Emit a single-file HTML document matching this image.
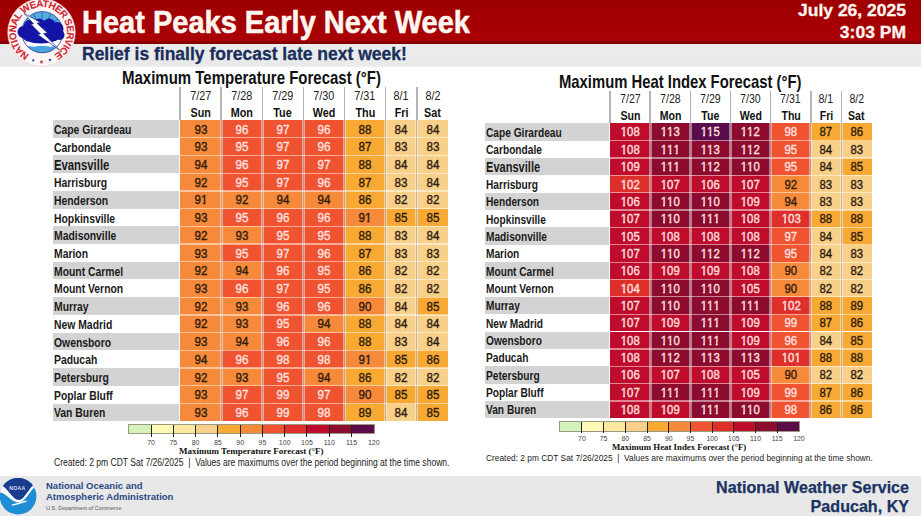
<!DOCTYPE html>
<html><head><meta charset="utf-8"><style>
html,body{margin:0;padding:0;}
body{width:921px;height:516px;position:relative;overflow:hidden;background:#fff;font-family:"Liberation Sans", sans-serif;}
div{box-sizing:border-box;}
.tt{position:absolute;white-space:nowrap;font-weight:bold;color:#111;line-height:1;transform-origin:0 0;}
.lb{position:absolute;white-space:nowrap;font-weight:bold;color:#1a1a1a;transform:scaleX(0.775);transform-origin:0 50%;}
.cl{position:absolute;text-align:center;}
.o{font-style:normal;display:inline-block;line-height:1;clip-path:polygon(0 0,100% 0,100% 0.64em,0.375em 0.64em,0.375em 100%,0.21em 100%,0.21em 0.64em,0 0.64em);}
.cl span{display:inline-block;transform:scaleX(0.93);-webkit-text-stroke:0.35px currentColor;}
.hd{position:absolute;text-align:center;line-height:14px;color:#222;}
.hd span{display:inline-block;transform:scaleX(0.9);}
.hd.b{font-weight:bold;color:#111;}
.tk{position:absolute;width:30px;text-align:center;color:#444;line-height:1;}
.lt{position:absolute;white-space:nowrap;font-family:"Liberation Serif",serif;font-weight:bold;color:#111;line-height:1;}
.cr{position:absolute;white-space:nowrap;color:#222;line-height:1;transform-origin:0 0;}
</style></head><body>
<div style="position:absolute;left:0;top:0;width:921px;height:44px;background:linear-gradient(#9e0000,#a90005 90%,#7c0000)"></div>
<div style="position:absolute;left:0;top:44px;width:921px;height:22.5px;background:linear-gradient(#ececec,#e9e9e9 85%,#efefef)"></div>
<div style="position:absolute;left:0;top:475.7px;width:921px;height:41px;background:#e8e8e8"></div>
<div style="position:absolute;left:82px;top:7.7px;font-size:29px;font-weight:bold;color:#fff6f0;-webkit-text-stroke:0.5px #fff6f0;line-height:1;white-space:nowrap;transform:scaleY(1.06);transform-origin:0 0">Heat Peaks Early Next Week</div>
<div style="position:absolute;left:82px;top:46px;font-size:17.5px;font-weight:bold;color:#1a2e5c;-webkit-text-stroke:0.3px #1a2e5c;line-height:1;white-space:nowrap">Relief is finally forecast late next week!</div>
<div style="position:absolute;right:15px;top:3px;font-size:17.5px;font-weight:bold;color:#fff6f0;-webkit-text-stroke:0.3px #fff6f0;line-height:1;white-space:nowrap;text-align:right;transform:scaleY(0.9);transform-origin:100% 0">July 26, 2025</div>
<div style="position:absolute;right:15px;top:25.2px;font-size:17.5px;font-weight:bold;color:#fff6f0;-webkit-text-stroke:0.3px #fff6f0;line-height:1;white-space:nowrap;text-align:right;transform:scaleY(0.9);transform-origin:100% 0">3:03 PM</div>
<svg style="position:absolute;left:0;top:0" width="84" height="70" viewBox="0 0 84 70">
<defs>
<path id="ring" d="M 29.29 54.89 A 25.5 25.5 0 1 1 54.29 54.56"/>
<clipPath id="inner"><circle cx="42.3" cy="32.2" r="20.6"/></clipPath>
</defs>
<circle cx="41.5" cy="32.5" r="33.8" fill="#fdf6f6" stroke="#e6cccc" stroke-width="0.6"/>
<g clip-path="url(#inner)">
<rect x="20" y="10" width="46" height="46" fill="#55aadf"/>
<g stroke="#2a6cb0" stroke-width="0.9">
<line x1="42.3" y1="32" x2="42" y2="10"/><line x1="42.3" y1="32" x2="52" y2="11"/><line x1="42.3" y1="32" x2="60" y2="17"/><line x1="42.3" y1="32" x2="32" y2="11"/><line x1="42.3" y1="32" x2="24" y2="18"/>
</g>
<path d="M18 39 Q26 35 34 38 Q42 35 50 38 Q58 35 66 39 L66 48 L18 48 Z" fill="#ffffff"/>
<path d="M18 46.8 Q26 45 34 46.8 Q42 44.8 50 46.8 Q58 45 66 46.8 L66 56 L18 56 Z" fill="#4aa2dc"/>
</g>
<circle cx="42.3" cy="32.2" r="20.6" fill="none" stroke="#2a3f95" stroke-width="0.8"/>
<g fill="#1414a6">
<circle cx="23.5" cy="32" r="6"/>
<circle cx="30" cy="26.5" r="6.5"/>
<circle cx="39" cy="24.5" r="6"/>
<circle cx="49" cy="24.5" r="6"/>
<circle cx="57" cy="28.5" r="6.5"/>
<circle cx="59.5" cy="35" r="5"/>
<ellipse cx="41" cy="36" rx="19" ry="7.5"/>
</g>
<path d="M24 13.3 L40.5 22.5 L37 23.2 L47.5 33 L43.5 33.6 L59.5 50 L37.5 34.5 L40.5 34 L31 24.3 L33.5 23.8 Z" fill="#ffffff" stroke="#1a2a8a" stroke-width="0.7" stroke-linejoin="miter"/>
<text font-family="Liberation Sans" font-weight="bold" font-size="9.9" fill="#d0262e" stroke="#d0262e" stroke-width="0.1" textLength="134" lengthAdjust="spacing"><textPath href="#ring" startOffset="0" textLength="134" lengthAdjust="spacing">NATIONAL WEATHER SERVICE</textPath></text>
<polygon points="33.20,58.40 33.67,59.65 35.01,59.71 33.96,60.55 34.32,61.84 33.20,61.10 32.08,61.84 32.44,60.55 31.39,59.71 32.73,59.65" fill="#2a3a90"/><polygon points="41.50,59.80 42.03,61.27 43.59,61.32 42.36,62.28 42.79,63.78 41.50,62.90 40.21,63.78 40.64,62.28 39.41,61.32 40.97,61.27" fill="#d0262e"/><polygon points="50.00,58.10 50.47,59.35 51.81,59.41 50.76,60.25 51.12,61.54 50.00,60.80 48.88,61.54 49.24,60.25 48.19,59.41 49.53,59.35" fill="#2a3a90"/>
</svg>

<div class="tt" style="left:121.5px;top:68.5px;font-size:18.00px;transform:scaleX(0.833)">Maximum Temperature Forecast (°F)</div>
<div style="position:absolute;left:53px;top:120.00px;width:126.20px;height:17.72px;background:#d3d3d3"></div>
<div class="lb" style="left:54.00px;top:120.90px;height:17.72px;line-height:17.72px;font-size:13.40px">Cape Girardeau</div>
<div class="cl" style="left:180.20px;top:120.00px;width:41.08px;height:17.72px;background:#f68a3a;color:#2e1a0c;line-height:17.72px;font-size:12.50px"><span style="position:relative;top:1.5px">93</span></div>
<div class="cl" style="left:221.28px;top:120.00px;width:41.08px;height:17.72px;background:#f05330;color:#ffe2e0;line-height:17.72px;font-size:12.50px"><span style="position:relative;top:1.5px">96</span></div>
<div class="cl" style="left:262.36px;top:120.00px;width:41.08px;height:17.72px;background:#f05330;color:#ffe2e0;line-height:17.72px;font-size:12.50px"><span style="position:relative;top:1.5px">97</span></div>
<div class="cl" style="left:303.44px;top:120.00px;width:41.08px;height:17.72px;background:#f05330;color:#ffe2e0;line-height:17.72px;font-size:12.50px"><span style="position:relative;top:1.5px">96</span></div>
<div class="cl" style="left:344.52px;top:120.00px;width:41.08px;height:17.72px;background:#f7a933;color:#2e1a0c;line-height:17.72px;font-size:12.50px"><span style="position:relative;top:1.5px">88</span></div>
<div class="cl" style="left:385.60px;top:120.00px;width:31.30px;height:17.72px;background:#f8d08a;color:#2e1a0c;line-height:17.72px;font-size:12.50px"><span style="position:relative;top:1.5px">84</span></div>
<div class="cl" style="left:416.90px;top:120.00px;width:31.30px;height:17.72px;background:#f8d08a;color:#2e1a0c;line-height:17.72px;font-size:12.50px"><span style="position:relative;top:1.5px">84</span></div>
<div class="lb" style="left:54.00px;top:138.62px;height:17.72px;line-height:17.72px;font-size:13.40px">Carbondale</div>
<div class="cl" style="left:180.20px;top:137.72px;width:41.08px;height:17.72px;background:#f68a3a;color:#2e1a0c;line-height:17.72px;font-size:12.50px"><span style="position:relative;top:1.5px">93</span></div>
<div class="cl" style="left:221.28px;top:137.72px;width:41.08px;height:17.72px;background:#f05330;color:#ffe2e0;line-height:17.72px;font-size:12.50px"><span style="position:relative;top:1.5px">95</span></div>
<div class="cl" style="left:262.36px;top:137.72px;width:41.08px;height:17.72px;background:#f05330;color:#ffe2e0;line-height:17.72px;font-size:12.50px"><span style="position:relative;top:1.5px">97</span></div>
<div class="cl" style="left:303.44px;top:137.72px;width:41.08px;height:17.72px;background:#f05330;color:#ffe2e0;line-height:17.72px;font-size:12.50px"><span style="position:relative;top:1.5px">96</span></div>
<div class="cl" style="left:344.52px;top:137.72px;width:41.08px;height:17.72px;background:#f7a933;color:#2e1a0c;line-height:17.72px;font-size:12.50px"><span style="position:relative;top:1.5px">87</span></div>
<div class="cl" style="left:385.60px;top:137.72px;width:31.30px;height:17.72px;background:#f8d08a;color:#2e1a0c;line-height:17.72px;font-size:12.50px"><span style="position:relative;top:1.5px">83</span></div>
<div class="cl" style="left:416.90px;top:137.72px;width:31.30px;height:17.72px;background:#f8d08a;color:#2e1a0c;line-height:17.72px;font-size:12.50px"><span style="position:relative;top:1.5px">83</span></div>
<div style="position:absolute;left:53px;top:155.44px;width:126.20px;height:17.72px;background:#d3d3d3"></div>
<div class="lb" style="left:54.00px;top:157.14px;height:17.72px;line-height:17.72px;font-size:14.60px">Evansville</div>
<div class="cl" style="left:180.20px;top:155.44px;width:41.08px;height:17.72px;background:#f68a3a;color:#2e1a0c;line-height:17.72px;font-size:12.50px"><span style="position:relative;top:1.5px">94</span></div>
<div class="cl" style="left:221.28px;top:155.44px;width:41.08px;height:17.72px;background:#f05330;color:#ffe2e0;line-height:17.72px;font-size:12.50px"><span style="position:relative;top:1.5px">96</span></div>
<div class="cl" style="left:262.36px;top:155.44px;width:41.08px;height:17.72px;background:#f05330;color:#ffe2e0;line-height:17.72px;font-size:12.50px"><span style="position:relative;top:1.5px">97</span></div>
<div class="cl" style="left:303.44px;top:155.44px;width:41.08px;height:17.72px;background:#f05330;color:#ffe2e0;line-height:17.72px;font-size:12.50px"><span style="position:relative;top:1.5px">97</span></div>
<div class="cl" style="left:344.52px;top:155.44px;width:41.08px;height:17.72px;background:#f7a933;color:#2e1a0c;line-height:17.72px;font-size:12.50px"><span style="position:relative;top:1.5px">88</span></div>
<div class="cl" style="left:385.60px;top:155.44px;width:31.30px;height:17.72px;background:#f8d08a;color:#2e1a0c;line-height:17.72px;font-size:12.50px"><span style="position:relative;top:1.5px">84</span></div>
<div class="cl" style="left:416.90px;top:155.44px;width:31.30px;height:17.72px;background:#f8d08a;color:#2e1a0c;line-height:17.72px;font-size:12.50px"><span style="position:relative;top:1.5px">84</span></div>
<div class="lb" style="left:54.00px;top:174.06px;height:17.72px;line-height:17.72px;font-size:13.40px">Harrisburg</div>
<div class="cl" style="left:180.20px;top:173.16px;width:41.08px;height:17.72px;background:#f68a3a;color:#2e1a0c;line-height:17.72px;font-size:12.50px"><span style="position:relative;top:1.5px">92</span></div>
<div class="cl" style="left:221.28px;top:173.16px;width:41.08px;height:17.72px;background:#f05330;color:#ffe2e0;line-height:17.72px;font-size:12.50px"><span style="position:relative;top:1.5px">95</span></div>
<div class="cl" style="left:262.36px;top:173.16px;width:41.08px;height:17.72px;background:#f05330;color:#ffe2e0;line-height:17.72px;font-size:12.50px"><span style="position:relative;top:1.5px">97</span></div>
<div class="cl" style="left:303.44px;top:173.16px;width:41.08px;height:17.72px;background:#f05330;color:#ffe2e0;line-height:17.72px;font-size:12.50px"><span style="position:relative;top:1.5px">96</span></div>
<div class="cl" style="left:344.52px;top:173.16px;width:41.08px;height:17.72px;background:#f7a933;color:#2e1a0c;line-height:17.72px;font-size:12.50px"><span style="position:relative;top:1.5px">87</span></div>
<div class="cl" style="left:385.60px;top:173.16px;width:31.30px;height:17.72px;background:#f8d08a;color:#2e1a0c;line-height:17.72px;font-size:12.50px"><span style="position:relative;top:1.5px">83</span></div>
<div class="cl" style="left:416.90px;top:173.16px;width:31.30px;height:17.72px;background:#f8d08a;color:#2e1a0c;line-height:17.72px;font-size:12.50px"><span style="position:relative;top:1.5px">84</span></div>
<div style="position:absolute;left:53px;top:190.88px;width:126.20px;height:17.72px;background:#d3d3d3"></div>
<div class="lb" style="left:54.00px;top:191.78px;height:17.72px;line-height:17.72px;font-size:13.40px">Henderson</div>
<div class="cl" style="left:180.20px;top:190.88px;width:41.08px;height:17.72px;background:#f68a3a;color:#2e1a0c;line-height:17.72px;font-size:12.50px"><span style="position:relative;top:1.5px">9<i class="o">1</i></span></div>
<div class="cl" style="left:221.28px;top:190.88px;width:41.08px;height:17.72px;background:#f68a3a;color:#2e1a0c;line-height:17.72px;font-size:12.50px"><span style="position:relative;top:1.5px">92</span></div>
<div class="cl" style="left:262.36px;top:190.88px;width:41.08px;height:17.72px;background:#f68a3a;color:#2e1a0c;line-height:17.72px;font-size:12.50px"><span style="position:relative;top:1.5px">94</span></div>
<div class="cl" style="left:303.44px;top:190.88px;width:41.08px;height:17.72px;background:#f68a3a;color:#2e1a0c;line-height:17.72px;font-size:12.50px"><span style="position:relative;top:1.5px">94</span></div>
<div class="cl" style="left:344.52px;top:190.88px;width:41.08px;height:17.72px;background:#f7a933;color:#2e1a0c;line-height:17.72px;font-size:12.50px"><span style="position:relative;top:1.5px">86</span></div>
<div class="cl" style="left:385.60px;top:190.88px;width:31.30px;height:17.72px;background:#f8d08a;color:#2e1a0c;line-height:17.72px;font-size:12.50px"><span style="position:relative;top:1.5px">82</span></div>
<div class="cl" style="left:416.90px;top:190.88px;width:31.30px;height:17.72px;background:#f8d08a;color:#2e1a0c;line-height:17.72px;font-size:12.50px"><span style="position:relative;top:1.5px">82</span></div>
<div class="lb" style="left:54.00px;top:209.50px;height:17.72px;line-height:17.72px;font-size:13.40px">Hopkinsville</div>
<div class="cl" style="left:180.20px;top:208.60px;width:41.08px;height:17.72px;background:#f68a3a;color:#2e1a0c;line-height:17.72px;font-size:12.50px"><span style="position:relative;top:1.5px">93</span></div>
<div class="cl" style="left:221.28px;top:208.60px;width:41.08px;height:17.72px;background:#f05330;color:#ffe2e0;line-height:17.72px;font-size:12.50px"><span style="position:relative;top:1.5px">95</span></div>
<div class="cl" style="left:262.36px;top:208.60px;width:41.08px;height:17.72px;background:#f05330;color:#ffe2e0;line-height:17.72px;font-size:12.50px"><span style="position:relative;top:1.5px">96</span></div>
<div class="cl" style="left:303.44px;top:208.60px;width:41.08px;height:17.72px;background:#f05330;color:#ffe2e0;line-height:17.72px;font-size:12.50px"><span style="position:relative;top:1.5px">96</span></div>
<div class="cl" style="left:344.52px;top:208.60px;width:41.08px;height:17.72px;background:#f68a3a;color:#2e1a0c;line-height:17.72px;font-size:12.50px"><span style="position:relative;top:1.5px">9<i class="o">1</i></span></div>
<div class="cl" style="left:385.60px;top:208.60px;width:31.30px;height:17.72px;background:#f7a933;color:#2e1a0c;line-height:17.72px;font-size:12.50px"><span style="position:relative;top:1.5px">85</span></div>
<div class="cl" style="left:416.90px;top:208.60px;width:31.30px;height:17.72px;background:#f7a933;color:#2e1a0c;line-height:17.72px;font-size:12.50px"><span style="position:relative;top:1.5px">85</span></div>
<div style="position:absolute;left:53px;top:226.32px;width:126.20px;height:17.72px;background:#d3d3d3"></div>
<div class="lb" style="left:54.00px;top:227.22px;height:17.72px;line-height:17.72px;font-size:13.40px">Madisonville</div>
<div class="cl" style="left:180.20px;top:226.32px;width:41.08px;height:17.72px;background:#f68a3a;color:#2e1a0c;line-height:17.72px;font-size:12.50px"><span style="position:relative;top:1.5px">92</span></div>
<div class="cl" style="left:221.28px;top:226.32px;width:41.08px;height:17.72px;background:#f68a3a;color:#2e1a0c;line-height:17.72px;font-size:12.50px"><span style="position:relative;top:1.5px">93</span></div>
<div class="cl" style="left:262.36px;top:226.32px;width:41.08px;height:17.72px;background:#f05330;color:#ffe2e0;line-height:17.72px;font-size:12.50px"><span style="position:relative;top:1.5px">95</span></div>
<div class="cl" style="left:303.44px;top:226.32px;width:41.08px;height:17.72px;background:#f05330;color:#ffe2e0;line-height:17.72px;font-size:12.50px"><span style="position:relative;top:1.5px">95</span></div>
<div class="cl" style="left:344.52px;top:226.32px;width:41.08px;height:17.72px;background:#f7a933;color:#2e1a0c;line-height:17.72px;font-size:12.50px"><span style="position:relative;top:1.5px">88</span></div>
<div class="cl" style="left:385.60px;top:226.32px;width:31.30px;height:17.72px;background:#f8d08a;color:#2e1a0c;line-height:17.72px;font-size:12.50px"><span style="position:relative;top:1.5px">83</span></div>
<div class="cl" style="left:416.90px;top:226.32px;width:31.30px;height:17.72px;background:#f8d08a;color:#2e1a0c;line-height:17.72px;font-size:12.50px"><span style="position:relative;top:1.5px">84</span></div>
<div class="lb" style="left:54.00px;top:244.94px;height:17.72px;line-height:17.72px;font-size:13.40px">Marion</div>
<div class="cl" style="left:180.20px;top:244.04px;width:41.08px;height:17.72px;background:#f68a3a;color:#2e1a0c;line-height:17.72px;font-size:12.50px"><span style="position:relative;top:1.5px">93</span></div>
<div class="cl" style="left:221.28px;top:244.04px;width:41.08px;height:17.72px;background:#f05330;color:#ffe2e0;line-height:17.72px;font-size:12.50px"><span style="position:relative;top:1.5px">95</span></div>
<div class="cl" style="left:262.36px;top:244.04px;width:41.08px;height:17.72px;background:#f05330;color:#ffe2e0;line-height:17.72px;font-size:12.50px"><span style="position:relative;top:1.5px">97</span></div>
<div class="cl" style="left:303.44px;top:244.04px;width:41.08px;height:17.72px;background:#f05330;color:#ffe2e0;line-height:17.72px;font-size:12.50px"><span style="position:relative;top:1.5px">96</span></div>
<div class="cl" style="left:344.52px;top:244.04px;width:41.08px;height:17.72px;background:#f7a933;color:#2e1a0c;line-height:17.72px;font-size:12.50px"><span style="position:relative;top:1.5px">87</span></div>
<div class="cl" style="left:385.60px;top:244.04px;width:31.30px;height:17.72px;background:#f8d08a;color:#2e1a0c;line-height:17.72px;font-size:12.50px"><span style="position:relative;top:1.5px">83</span></div>
<div class="cl" style="left:416.90px;top:244.04px;width:31.30px;height:17.72px;background:#f8d08a;color:#2e1a0c;line-height:17.72px;font-size:12.50px"><span style="position:relative;top:1.5px">83</span></div>
<div style="position:absolute;left:53px;top:261.76px;width:126.20px;height:17.72px;background:#d3d3d3"></div>
<div class="lb" style="left:54.00px;top:262.66px;height:17.72px;line-height:17.72px;font-size:13.40px">Mount Carmel</div>
<div class="cl" style="left:180.20px;top:261.76px;width:41.08px;height:17.72px;background:#f68a3a;color:#2e1a0c;line-height:17.72px;font-size:12.50px"><span style="position:relative;top:1.5px">92</span></div>
<div class="cl" style="left:221.28px;top:261.76px;width:41.08px;height:17.72px;background:#f68a3a;color:#2e1a0c;line-height:17.72px;font-size:12.50px"><span style="position:relative;top:1.5px">94</span></div>
<div class="cl" style="left:262.36px;top:261.76px;width:41.08px;height:17.72px;background:#f05330;color:#ffe2e0;line-height:17.72px;font-size:12.50px"><span style="position:relative;top:1.5px">96</span></div>
<div class="cl" style="left:303.44px;top:261.76px;width:41.08px;height:17.72px;background:#f05330;color:#ffe2e0;line-height:17.72px;font-size:12.50px"><span style="position:relative;top:1.5px">95</span></div>
<div class="cl" style="left:344.52px;top:261.76px;width:41.08px;height:17.72px;background:#f7a933;color:#2e1a0c;line-height:17.72px;font-size:12.50px"><span style="position:relative;top:1.5px">86</span></div>
<div class="cl" style="left:385.60px;top:261.76px;width:31.30px;height:17.72px;background:#f8d08a;color:#2e1a0c;line-height:17.72px;font-size:12.50px"><span style="position:relative;top:1.5px">82</span></div>
<div class="cl" style="left:416.90px;top:261.76px;width:31.30px;height:17.72px;background:#f8d08a;color:#2e1a0c;line-height:17.72px;font-size:12.50px"><span style="position:relative;top:1.5px">82</span></div>
<div class="lb" style="left:54.00px;top:280.38px;height:17.72px;line-height:17.72px;font-size:13.40px">Mount Vernon</div>
<div class="cl" style="left:180.20px;top:279.48px;width:41.08px;height:17.72px;background:#f68a3a;color:#2e1a0c;line-height:17.72px;font-size:12.50px"><span style="position:relative;top:1.5px">93</span></div>
<div class="cl" style="left:221.28px;top:279.48px;width:41.08px;height:17.72px;background:#f05330;color:#ffe2e0;line-height:17.72px;font-size:12.50px"><span style="position:relative;top:1.5px">96</span></div>
<div class="cl" style="left:262.36px;top:279.48px;width:41.08px;height:17.72px;background:#f05330;color:#ffe2e0;line-height:17.72px;font-size:12.50px"><span style="position:relative;top:1.5px">97</span></div>
<div class="cl" style="left:303.44px;top:279.48px;width:41.08px;height:17.72px;background:#f05330;color:#ffe2e0;line-height:17.72px;font-size:12.50px"><span style="position:relative;top:1.5px">95</span></div>
<div class="cl" style="left:344.52px;top:279.48px;width:41.08px;height:17.72px;background:#f7a933;color:#2e1a0c;line-height:17.72px;font-size:12.50px"><span style="position:relative;top:1.5px">86</span></div>
<div class="cl" style="left:385.60px;top:279.48px;width:31.30px;height:17.72px;background:#f8d08a;color:#2e1a0c;line-height:17.72px;font-size:12.50px"><span style="position:relative;top:1.5px">82</span></div>
<div class="cl" style="left:416.90px;top:279.48px;width:31.30px;height:17.72px;background:#f8d08a;color:#2e1a0c;line-height:17.72px;font-size:12.50px"><span style="position:relative;top:1.5px">82</span></div>
<div style="position:absolute;left:53px;top:297.20px;width:126.20px;height:17.72px;background:#d3d3d3"></div>
<div class="lb" style="left:54.00px;top:298.10px;height:17.72px;line-height:17.72px;font-size:13.40px">Murray</div>
<div class="cl" style="left:180.20px;top:297.20px;width:41.08px;height:17.72px;background:#f68a3a;color:#2e1a0c;line-height:17.72px;font-size:12.50px"><span style="position:relative;top:1.5px">92</span></div>
<div class="cl" style="left:221.28px;top:297.20px;width:41.08px;height:17.72px;background:#f68a3a;color:#2e1a0c;line-height:17.72px;font-size:12.50px"><span style="position:relative;top:1.5px">93</span></div>
<div class="cl" style="left:262.36px;top:297.20px;width:41.08px;height:17.72px;background:#f05330;color:#ffe2e0;line-height:17.72px;font-size:12.50px"><span style="position:relative;top:1.5px">96</span></div>
<div class="cl" style="left:303.44px;top:297.20px;width:41.08px;height:17.72px;background:#f05330;color:#ffe2e0;line-height:17.72px;font-size:12.50px"><span style="position:relative;top:1.5px">96</span></div>
<div class="cl" style="left:344.52px;top:297.20px;width:41.08px;height:17.72px;background:#f68a3a;color:#2e1a0c;line-height:17.72px;font-size:12.50px"><span style="position:relative;top:1.5px">90</span></div>
<div class="cl" style="left:385.60px;top:297.20px;width:31.30px;height:17.72px;background:#f8d08a;color:#2e1a0c;line-height:17.72px;font-size:12.50px"><span style="position:relative;top:1.5px">84</span></div>
<div class="cl" style="left:416.90px;top:297.20px;width:31.30px;height:17.72px;background:#f7a933;color:#2e1a0c;line-height:17.72px;font-size:12.50px"><span style="position:relative;top:1.5px">85</span></div>
<div class="lb" style="left:54.00px;top:315.82px;height:17.72px;line-height:17.72px;font-size:13.40px">New Madrid</div>
<div class="cl" style="left:180.20px;top:314.92px;width:41.08px;height:17.72px;background:#f68a3a;color:#2e1a0c;line-height:17.72px;font-size:12.50px"><span style="position:relative;top:1.5px">92</span></div>
<div class="cl" style="left:221.28px;top:314.92px;width:41.08px;height:17.72px;background:#f68a3a;color:#2e1a0c;line-height:17.72px;font-size:12.50px"><span style="position:relative;top:1.5px">93</span></div>
<div class="cl" style="left:262.36px;top:314.92px;width:41.08px;height:17.72px;background:#f05330;color:#ffe2e0;line-height:17.72px;font-size:12.50px"><span style="position:relative;top:1.5px">95</span></div>
<div class="cl" style="left:303.44px;top:314.92px;width:41.08px;height:17.72px;background:#f68a3a;color:#2e1a0c;line-height:17.72px;font-size:12.50px"><span style="position:relative;top:1.5px">94</span></div>
<div class="cl" style="left:344.52px;top:314.92px;width:41.08px;height:17.72px;background:#f7a933;color:#2e1a0c;line-height:17.72px;font-size:12.50px"><span style="position:relative;top:1.5px">88</span></div>
<div class="cl" style="left:385.60px;top:314.92px;width:31.30px;height:17.72px;background:#f8d08a;color:#2e1a0c;line-height:17.72px;font-size:12.50px"><span style="position:relative;top:1.5px">84</span></div>
<div class="cl" style="left:416.90px;top:314.92px;width:31.30px;height:17.72px;background:#f8d08a;color:#2e1a0c;line-height:17.72px;font-size:12.50px"><span style="position:relative;top:1.5px">84</span></div>
<div style="position:absolute;left:53px;top:332.64px;width:126.20px;height:17.72px;background:#d3d3d3"></div>
<div class="lb" style="left:54.00px;top:333.54px;height:17.72px;line-height:17.72px;font-size:13.40px">Owensboro</div>
<div class="cl" style="left:180.20px;top:332.64px;width:41.08px;height:17.72px;background:#f68a3a;color:#2e1a0c;line-height:17.72px;font-size:12.50px"><span style="position:relative;top:1.5px">93</span></div>
<div class="cl" style="left:221.28px;top:332.64px;width:41.08px;height:17.72px;background:#f68a3a;color:#2e1a0c;line-height:17.72px;font-size:12.50px"><span style="position:relative;top:1.5px">94</span></div>
<div class="cl" style="left:262.36px;top:332.64px;width:41.08px;height:17.72px;background:#f05330;color:#ffe2e0;line-height:17.72px;font-size:12.50px"><span style="position:relative;top:1.5px">96</span></div>
<div class="cl" style="left:303.44px;top:332.64px;width:41.08px;height:17.72px;background:#f05330;color:#ffe2e0;line-height:17.72px;font-size:12.50px"><span style="position:relative;top:1.5px">96</span></div>
<div class="cl" style="left:344.52px;top:332.64px;width:41.08px;height:17.72px;background:#f7a933;color:#2e1a0c;line-height:17.72px;font-size:12.50px"><span style="position:relative;top:1.5px">88</span></div>
<div class="cl" style="left:385.60px;top:332.64px;width:31.30px;height:17.72px;background:#f8d08a;color:#2e1a0c;line-height:17.72px;font-size:12.50px"><span style="position:relative;top:1.5px">83</span></div>
<div class="cl" style="left:416.90px;top:332.64px;width:31.30px;height:17.72px;background:#f8d08a;color:#2e1a0c;line-height:17.72px;font-size:12.50px"><span style="position:relative;top:1.5px">84</span></div>
<div class="lb" style="left:54.00px;top:351.26px;height:17.72px;line-height:17.72px;font-size:13.40px">Paducah</div>
<div class="cl" style="left:180.20px;top:350.36px;width:41.08px;height:17.72px;background:#f68a3a;color:#2e1a0c;line-height:17.72px;font-size:12.50px"><span style="position:relative;top:1.5px">94</span></div>
<div class="cl" style="left:221.28px;top:350.36px;width:41.08px;height:17.72px;background:#f05330;color:#ffe2e0;line-height:17.72px;font-size:12.50px"><span style="position:relative;top:1.5px">96</span></div>
<div class="cl" style="left:262.36px;top:350.36px;width:41.08px;height:17.72px;background:#f05330;color:#ffe2e0;line-height:17.72px;font-size:12.50px"><span style="position:relative;top:1.5px">98</span></div>
<div class="cl" style="left:303.44px;top:350.36px;width:41.08px;height:17.72px;background:#f05330;color:#ffe2e0;line-height:17.72px;font-size:12.50px"><span style="position:relative;top:1.5px">98</span></div>
<div class="cl" style="left:344.52px;top:350.36px;width:41.08px;height:17.72px;background:#f68a3a;color:#2e1a0c;line-height:17.72px;font-size:12.50px"><span style="position:relative;top:1.5px">9<i class="o">1</i></span></div>
<div class="cl" style="left:385.60px;top:350.36px;width:31.30px;height:17.72px;background:#f7a933;color:#2e1a0c;line-height:17.72px;font-size:12.50px"><span style="position:relative;top:1.5px">85</span></div>
<div class="cl" style="left:416.90px;top:350.36px;width:31.30px;height:17.72px;background:#f7a933;color:#2e1a0c;line-height:17.72px;font-size:12.50px"><span style="position:relative;top:1.5px">86</span></div>
<div style="position:absolute;left:53px;top:368.08px;width:126.20px;height:17.72px;background:#d3d3d3"></div>
<div class="lb" style="left:54.00px;top:368.98px;height:17.72px;line-height:17.72px;font-size:13.40px">Petersburg</div>
<div class="cl" style="left:180.20px;top:368.08px;width:41.08px;height:17.72px;background:#f68a3a;color:#2e1a0c;line-height:17.72px;font-size:12.50px"><span style="position:relative;top:1.5px">92</span></div>
<div class="cl" style="left:221.28px;top:368.08px;width:41.08px;height:17.72px;background:#f68a3a;color:#2e1a0c;line-height:17.72px;font-size:12.50px"><span style="position:relative;top:1.5px">93</span></div>
<div class="cl" style="left:262.36px;top:368.08px;width:41.08px;height:17.72px;background:#f05330;color:#ffe2e0;line-height:17.72px;font-size:12.50px"><span style="position:relative;top:1.5px">95</span></div>
<div class="cl" style="left:303.44px;top:368.08px;width:41.08px;height:17.72px;background:#f68a3a;color:#2e1a0c;line-height:17.72px;font-size:12.50px"><span style="position:relative;top:1.5px">94</span></div>
<div class="cl" style="left:344.52px;top:368.08px;width:41.08px;height:17.72px;background:#f7a933;color:#2e1a0c;line-height:17.72px;font-size:12.50px"><span style="position:relative;top:1.5px">86</span></div>
<div class="cl" style="left:385.60px;top:368.08px;width:31.30px;height:17.72px;background:#f8d08a;color:#2e1a0c;line-height:17.72px;font-size:12.50px"><span style="position:relative;top:1.5px">82</span></div>
<div class="cl" style="left:416.90px;top:368.08px;width:31.30px;height:17.72px;background:#f8d08a;color:#2e1a0c;line-height:17.72px;font-size:12.50px"><span style="position:relative;top:1.5px">82</span></div>
<div class="lb" style="left:54.00px;top:386.70px;height:17.72px;line-height:17.72px;font-size:13.40px">Poplar Bluff</div>
<div class="cl" style="left:180.20px;top:385.80px;width:41.08px;height:17.72px;background:#f68a3a;color:#2e1a0c;line-height:17.72px;font-size:12.50px"><span style="position:relative;top:1.5px">93</span></div>
<div class="cl" style="left:221.28px;top:385.80px;width:41.08px;height:17.72px;background:#f05330;color:#ffe2e0;line-height:17.72px;font-size:12.50px"><span style="position:relative;top:1.5px">97</span></div>
<div class="cl" style="left:262.36px;top:385.80px;width:41.08px;height:17.72px;background:#f05330;color:#ffe2e0;line-height:17.72px;font-size:12.50px"><span style="position:relative;top:1.5px">99</span></div>
<div class="cl" style="left:303.44px;top:385.80px;width:41.08px;height:17.72px;background:#f05330;color:#ffe2e0;line-height:17.72px;font-size:12.50px"><span style="position:relative;top:1.5px">97</span></div>
<div class="cl" style="left:344.52px;top:385.80px;width:41.08px;height:17.72px;background:#f68a3a;color:#2e1a0c;line-height:17.72px;font-size:12.50px"><span style="position:relative;top:1.5px">90</span></div>
<div class="cl" style="left:385.60px;top:385.80px;width:31.30px;height:17.72px;background:#f7a933;color:#2e1a0c;line-height:17.72px;font-size:12.50px"><span style="position:relative;top:1.5px">85</span></div>
<div class="cl" style="left:416.90px;top:385.80px;width:31.30px;height:17.72px;background:#f7a933;color:#2e1a0c;line-height:17.72px;font-size:12.50px"><span style="position:relative;top:1.5px">85</span></div>
<div style="position:absolute;left:53px;top:403.52px;width:126.20px;height:17.72px;background:#d3d3d3"></div>
<div class="lb" style="left:54.00px;top:404.42px;height:17.72px;line-height:17.72px;font-size:13.40px">Van Buren</div>
<div class="cl" style="left:180.20px;top:403.52px;width:41.08px;height:17.72px;background:#f68a3a;color:#2e1a0c;line-height:17.72px;font-size:12.50px"><span style="position:relative;top:1.5px">93</span></div>
<div class="cl" style="left:221.28px;top:403.52px;width:41.08px;height:17.72px;background:#f05330;color:#ffe2e0;line-height:17.72px;font-size:12.50px"><span style="position:relative;top:1.5px">96</span></div>
<div class="cl" style="left:262.36px;top:403.52px;width:41.08px;height:17.72px;background:#f05330;color:#ffe2e0;line-height:17.72px;font-size:12.50px"><span style="position:relative;top:1.5px">99</span></div>
<div class="cl" style="left:303.44px;top:403.52px;width:41.08px;height:17.72px;background:#f05330;color:#ffe2e0;line-height:17.72px;font-size:12.50px"><span style="position:relative;top:1.5px">98</span></div>
<div class="cl" style="left:344.52px;top:403.52px;width:41.08px;height:17.72px;background:#f7a933;color:#2e1a0c;line-height:17.72px;font-size:12.50px"><span style="position:relative;top:1.5px">89</span></div>
<div class="cl" style="left:385.60px;top:403.52px;width:31.30px;height:17.72px;background:#f8d08a;color:#2e1a0c;line-height:17.72px;font-size:12.50px"><span style="position:relative;top:1.5px">84</span></div>
<div class="cl" style="left:416.90px;top:403.52px;width:31.30px;height:17.72px;background:#f7a933;color:#2e1a0c;line-height:17.72px;font-size:12.50px"><span style="position:relative;top:1.5px">85</span></div>
<div style="position:absolute;left:179.40px;top:87px;width:1.6px;height:33.00px;background:#b4b4b4"></div>
<div style="position:absolute;left:220.48px;top:87px;width:1.6px;height:33.00px;background:#b4b4b4"></div>
<div style="position:absolute;left:219.78px;top:120px;width:3px;height:301.24px;background:rgba(255,255,255,.45)"></div>
<div style="position:absolute;left:220.68px;top:120px;width:1.2px;height:301.24px;background:rgba(140,140,140,.55)"></div>
<div style="position:absolute;left:261.56px;top:87px;width:1.6px;height:33.00px;background:#b4b4b4"></div>
<div style="position:absolute;left:260.86px;top:120px;width:3px;height:301.24px;background:rgba(255,255,255,.45)"></div>
<div style="position:absolute;left:261.76px;top:120px;width:1.2px;height:301.24px;background:rgba(140,140,140,.55)"></div>
<div style="position:absolute;left:302.64px;top:87px;width:1.6px;height:33.00px;background:#b4b4b4"></div>
<div style="position:absolute;left:301.94px;top:120px;width:3px;height:301.24px;background:rgba(255,255,255,.45)"></div>
<div style="position:absolute;left:302.84px;top:120px;width:1.2px;height:301.24px;background:rgba(140,140,140,.55)"></div>
<div style="position:absolute;left:343.72px;top:87px;width:1.6px;height:33.00px;background:#b4b4b4"></div>
<div style="position:absolute;left:343.02px;top:120px;width:3px;height:301.24px;background:rgba(255,255,255,.45)"></div>
<div style="position:absolute;left:343.92px;top:120px;width:1.2px;height:301.24px;background:rgba(140,140,140,.55)"></div>
<div style="position:absolute;left:384.80px;top:87px;width:1.6px;height:33.00px;background:#b4b4b4"></div>
<div style="position:absolute;left:384.10px;top:120px;width:3px;height:301.24px;background:rgba(255,255,255,.45)"></div>
<div style="position:absolute;left:385.00px;top:120px;width:1.2px;height:301.24px;background:rgba(140,140,140,.55)"></div>
<div style="position:absolute;left:416.10px;top:87px;width:1.6px;height:33.00px;background:#b4b4b4"></div>
<div style="position:absolute;left:415.40px;top:120px;width:3px;height:301.24px;background:rgba(255,255,255,.45)"></div>
<div style="position:absolute;left:416.30px;top:120px;width:1.2px;height:301.24px;background:rgba(140,140,140,.55)"></div>
<div style="position:absolute;left:180.20px;top:137.12px;width:268.00px;height:1.3px;background:rgba(255,255,255,.5)"></div>
<div style="position:absolute;left:180.20px;top:154.84px;width:268.00px;height:1.3px;background:rgba(255,255,255,.5)"></div>
<div style="position:absolute;left:180.20px;top:172.56px;width:268.00px;height:1.3px;background:rgba(255,255,255,.5)"></div>
<div style="position:absolute;left:180.20px;top:190.28px;width:268.00px;height:1.3px;background:rgba(255,255,255,.5)"></div>
<div style="position:absolute;left:180.20px;top:208.00px;width:268.00px;height:1.3px;background:rgba(255,255,255,.5)"></div>
<div style="position:absolute;left:180.20px;top:225.72px;width:268.00px;height:1.3px;background:rgba(255,255,255,.5)"></div>
<div style="position:absolute;left:180.20px;top:243.44px;width:268.00px;height:1.3px;background:rgba(255,255,255,.5)"></div>
<div style="position:absolute;left:180.20px;top:261.16px;width:268.00px;height:1.3px;background:rgba(255,255,255,.5)"></div>
<div style="position:absolute;left:180.20px;top:278.88px;width:268.00px;height:1.3px;background:rgba(255,255,255,.5)"></div>
<div style="position:absolute;left:180.20px;top:296.60px;width:268.00px;height:1.3px;background:rgba(255,255,255,.5)"></div>
<div style="position:absolute;left:180.20px;top:314.32px;width:268.00px;height:1.3px;background:rgba(255,255,255,.5)"></div>
<div style="position:absolute;left:180.20px;top:332.04px;width:268.00px;height:1.3px;background:rgba(255,255,255,.5)"></div>
<div style="position:absolute;left:180.20px;top:349.76px;width:268.00px;height:1.3px;background:rgba(255,255,255,.5)"></div>
<div style="position:absolute;left:180.20px;top:367.48px;width:268.00px;height:1.3px;background:rgba(255,255,255,.5)"></div>
<div style="position:absolute;left:180.20px;top:385.20px;width:268.00px;height:1.3px;background:rgba(255,255,255,.5)"></div>
<div style="position:absolute;left:180.20px;top:402.92px;width:268.00px;height:1.3px;background:rgba(255,255,255,.5)"></div>
<div class="hd" style="left:180.20px;top:89px;width:41.08px;font-size:13.00px"><span style="transform:scaleX(0.83)">7/27</span></div>
<div class="hd b" style="left:180.20px;top:106px;width:41.08px;font-size:13.50px"><span style="transform:scaleX(0.8)">Sun</span></div>
<div class="hd" style="left:221.28px;top:89px;width:41.08px;font-size:13.00px"><span style="transform:scaleX(0.83)">7/28</span></div>
<div class="hd b" style="left:221.28px;top:106px;width:41.08px;font-size:13.50px"><span style="transform:scaleX(0.8)">Mon</span></div>
<div class="hd" style="left:262.36px;top:89px;width:41.08px;font-size:13.00px"><span style="transform:scaleX(0.83)">7/29</span></div>
<div class="hd b" style="left:262.36px;top:106px;width:41.08px;font-size:13.50px"><span style="transform:scaleX(0.8)">Tue</span></div>
<div class="hd" style="left:303.44px;top:89px;width:41.08px;font-size:13.00px"><span style="transform:scaleX(0.83)">7/30</span></div>
<div class="hd b" style="left:303.44px;top:106px;width:41.08px;font-size:13.50px"><span style="transform:scaleX(0.8)">Wed</span></div>
<div class="hd" style="left:344.52px;top:89px;width:41.08px;font-size:13.00px"><span style="transform:scaleX(0.83)">7/31</span></div>
<div class="hd b" style="left:344.52px;top:106px;width:41.08px;font-size:13.50px"><span style="transform:scaleX(0.8)">Thu</span></div>
<div class="hd" style="left:385.60px;top:89px;width:31.30px;font-size:13.00px"><span style="transform:scaleX(0.83)">8/1</span></div>
<div class="hd b" style="left:385.60px;top:106px;width:31.30px;font-size:13.50px"><span style="transform:scaleX(0.8)">Fri</span></div>
<div class="hd" style="left:416.90px;top:89px;width:31.30px;font-size:13.00px"><span style="transform:scaleX(0.83)">8/2</span></div>
<div class="hd b" style="left:416.90px;top:106px;width:31.30px;font-size:13.50px"><span style="transform:scaleX(0.8)">Sat</span></div>
<div style="position:absolute;left:128.8px;top:424.8px;width:244.97px;height:8.7px;display:flex;outline:0.5px solid #9a9a80"><div style="flex:1;background:#d6f2bc"></div><div style="flex:1;background:#fdf9b4"></div><div style="flex:1;background:#fbe9a2"></div><div style="flex:1;background:#f8d08a"></div><div style="flex:1;background:#f7a933"></div><div style="flex:1;background:#f68a3a"></div><div style="flex:1;background:#f05330"></div><div style="flex:1;background:#df2f2a"></div><div style="flex:1;background:#c00c2c"></div><div style="flex:1;background:#8c0b2e"></div><div style="flex:1;background:#5b0c4a"></div></div>
<div style="position:absolute;left:150.57px;top:424.8px;width:1px;height:12.2px;background:#222"></div>
<div class="tk" style="left:136.07px;top:438.8px;font-size:7.00px">70</div>
<div style="position:absolute;left:172.84px;top:424.8px;width:1px;height:12.2px;background:#222"></div>
<div class="tk" style="left:158.34px;top:438.8px;font-size:7.00px">75</div>
<div style="position:absolute;left:195.11px;top:424.8px;width:1px;height:12.2px;background:#222"></div>
<div class="tk" style="left:180.61px;top:438.8px;font-size:7.00px">80</div>
<div style="position:absolute;left:217.38px;top:424.8px;width:1px;height:12.2px;background:#222"></div>
<div class="tk" style="left:202.88px;top:438.8px;font-size:7.00px">85</div>
<div style="position:absolute;left:239.65px;top:424.8px;width:1px;height:12.2px;background:#222"></div>
<div class="tk" style="left:225.15px;top:438.8px;font-size:7.00px">90</div>
<div style="position:absolute;left:261.92px;top:424.8px;width:1px;height:12.2px;background:#222"></div>
<div class="tk" style="left:247.42px;top:438.8px;font-size:7.00px">95</div>
<div style="position:absolute;left:284.19px;top:424.8px;width:1px;height:12.2px;background:#222"></div>
<div class="tk" style="left:269.69px;top:438.8px;font-size:7.00px">100</div>
<div style="position:absolute;left:306.46px;top:424.8px;width:1px;height:12.2px;background:#222"></div>
<div class="tk" style="left:291.96px;top:438.8px;font-size:7.00px">105</div>
<div style="position:absolute;left:328.73px;top:424.8px;width:1px;height:12.2px;background:#222"></div>
<div class="tk" style="left:314.23px;top:438.8px;font-size:7.00px">110</div>
<div style="position:absolute;left:351.00px;top:424.8px;width:1px;height:12.2px;background:#222"></div>
<div class="tk" style="left:336.50px;top:438.8px;font-size:7.00px">115</div>
<div class="tk" style="left:358.77px;top:438.8px;font-size:7.00px">120</div>
<div class="lt" style="left:179px;top:447px;font-size:9.00px">Maximum Temperature Forecast (°F)</div>
<div class="cr" style="left:53.8px;top:458px;font-size:10.00px;transform:scaleX(0.854)">Created: 2 pm CDT Sat 7/26/2025&nbsp; |&nbsp; Values are maximums over the period beginning at the time shown.</div>
<div class="tt" style="left:558.5px;top:73.7px;font-size:17.62px;transform:scaleX(0.842)">Maximum Heat Index Forecast (°F)</div>
<div style="position:absolute;left:485px;top:123.30px;width:124.10px;height:17.35px;background:#d3d3d3"></div>
<div class="lb" style="left:485.98px;top:123.80px;height:17.35px;line-height:17.35px;font-size:13.12px">Cape Girardeau</div>
<div class="cl" style="left:610.10px;top:123.30px;width:40.15px;height:17.35px;background:#c00c2c;color:#ffe2e0;line-height:17.35px;font-size:12.24px"><span style="position:relative;top:1.2px"><i class="o">1</i>08</span></div>
<div class="cl" style="left:650.25px;top:123.30px;width:40.15px;height:17.35px;background:#8c0b2e;color:#ffe2e0;line-height:17.35px;font-size:12.24px"><span style="position:relative;top:1.2px"><i class="o">1</i><i class="o">1</i>3</span></div>
<div class="cl" style="left:690.40px;top:123.30px;width:40.15px;height:17.35px;background:#5b0c4a;color:#ffe2e0;line-height:17.35px;font-size:12.24px"><span style="position:relative;top:1.2px"><i class="o">1</i><i class="o">1</i>5</span></div>
<div class="cl" style="left:730.55px;top:123.30px;width:40.15px;height:17.35px;background:#8c0b2e;color:#ffe2e0;line-height:17.35px;font-size:12.24px"><span style="position:relative;top:1.2px"><i class="o">1</i><i class="o">1</i>2</span></div>
<div class="cl" style="left:770.70px;top:123.30px;width:40.15px;height:17.35px;background:#f05330;color:#ffe2e0;line-height:17.35px;font-size:12.24px"><span style="position:relative;top:1.2px">98</span></div>
<div class="cl" style="left:810.85px;top:123.30px;width:30.50px;height:17.35px;background:#f7a933;color:#2e1a0c;line-height:17.35px;font-size:12.24px"><span style="position:relative;top:1.2px">87</span></div>
<div class="cl" style="left:841.35px;top:123.30px;width:30.50px;height:17.35px;background:#f7a933;color:#2e1a0c;line-height:17.35px;font-size:12.24px"><span style="position:relative;top:1.2px">86</span></div>
<div class="lb" style="left:485.98px;top:141.15px;height:17.35px;line-height:17.35px;font-size:13.12px">Carbondale</div>
<div class="cl" style="left:610.10px;top:140.65px;width:40.15px;height:17.35px;background:#c00c2c;color:#ffe2e0;line-height:17.35px;font-size:12.24px"><span style="position:relative;top:1.2px"><i class="o">1</i>08</span></div>
<div class="cl" style="left:650.25px;top:140.65px;width:40.15px;height:17.35px;background:#8c0b2e;color:#ffe2e0;line-height:17.35px;font-size:12.24px"><span style="position:relative;top:1.2px"><i class="o">1</i><i class="o">1</i><i class="o">1</i></span></div>
<div class="cl" style="left:690.40px;top:140.65px;width:40.15px;height:17.35px;background:#8c0b2e;color:#ffe2e0;line-height:17.35px;font-size:12.24px"><span style="position:relative;top:1.2px"><i class="o">1</i><i class="o">1</i>3</span></div>
<div class="cl" style="left:730.55px;top:140.65px;width:40.15px;height:17.35px;background:#8c0b2e;color:#ffe2e0;line-height:17.35px;font-size:12.24px"><span style="position:relative;top:1.2px"><i class="o">1</i><i class="o">1</i>2</span></div>
<div class="cl" style="left:770.70px;top:140.65px;width:40.15px;height:17.35px;background:#f05330;color:#ffe2e0;line-height:17.35px;font-size:12.24px"><span style="position:relative;top:1.2px">95</span></div>
<div class="cl" style="left:810.85px;top:140.65px;width:30.50px;height:17.35px;background:#f8d08a;color:#2e1a0c;line-height:17.35px;font-size:12.24px"><span style="position:relative;top:1.2px">84</span></div>
<div class="cl" style="left:841.35px;top:140.65px;width:30.50px;height:17.35px;background:#f8d08a;color:#2e1a0c;line-height:17.35px;font-size:12.24px"><span style="position:relative;top:1.2px">83</span></div>
<div style="position:absolute;left:485px;top:158.00px;width:124.10px;height:17.35px;background:#d3d3d3"></div>
<div class="lb" style="left:485.98px;top:159.30px;height:17.35px;line-height:17.35px;font-size:14.29px">Evansville</div>
<div class="cl" style="left:610.10px;top:158.00px;width:40.15px;height:17.35px;background:#c00c2c;color:#ffe2e0;line-height:17.35px;font-size:12.24px"><span style="position:relative;top:1.2px"><i class="o">1</i>09</span></div>
<div class="cl" style="left:650.25px;top:158.00px;width:40.15px;height:17.35px;background:#8c0b2e;color:#ffe2e0;line-height:17.35px;font-size:12.24px"><span style="position:relative;top:1.2px"><i class="o">1</i><i class="o">1</i><i class="o">1</i></span></div>
<div class="cl" style="left:690.40px;top:158.00px;width:40.15px;height:17.35px;background:#8c0b2e;color:#ffe2e0;line-height:17.35px;font-size:12.24px"><span style="position:relative;top:1.2px"><i class="o">1</i><i class="o">1</i>2</span></div>
<div class="cl" style="left:730.55px;top:158.00px;width:40.15px;height:17.35px;background:#8c0b2e;color:#ffe2e0;line-height:17.35px;font-size:12.24px"><span style="position:relative;top:1.2px"><i class="o">1</i><i class="o">1</i>0</span></div>
<div class="cl" style="left:770.70px;top:158.00px;width:40.15px;height:17.35px;background:#f05330;color:#ffe2e0;line-height:17.35px;font-size:12.24px"><span style="position:relative;top:1.2px">95</span></div>
<div class="cl" style="left:810.85px;top:158.00px;width:30.50px;height:17.35px;background:#f8d08a;color:#2e1a0c;line-height:17.35px;font-size:12.24px"><span style="position:relative;top:1.2px">84</span></div>
<div class="cl" style="left:841.35px;top:158.00px;width:30.50px;height:17.35px;background:#f7a933;color:#2e1a0c;line-height:17.35px;font-size:12.24px"><span style="position:relative;top:1.2px">85</span></div>
<div class="lb" style="left:485.98px;top:175.85px;height:17.35px;line-height:17.35px;font-size:13.12px">Harrisburg</div>
<div class="cl" style="left:610.10px;top:175.35px;width:40.15px;height:17.35px;background:#df2f2a;color:#ffe2e0;line-height:17.35px;font-size:12.24px"><span style="position:relative;top:1.2px"><i class="o">1</i>02</span></div>
<div class="cl" style="left:650.25px;top:175.35px;width:40.15px;height:17.35px;background:#c00c2c;color:#ffe2e0;line-height:17.35px;font-size:12.24px"><span style="position:relative;top:1.2px"><i class="o">1</i>07</span></div>
<div class="cl" style="left:690.40px;top:175.35px;width:40.15px;height:17.35px;background:#c00c2c;color:#ffe2e0;line-height:17.35px;font-size:12.24px"><span style="position:relative;top:1.2px"><i class="o">1</i>06</span></div>
<div class="cl" style="left:730.55px;top:175.35px;width:40.15px;height:17.35px;background:#c00c2c;color:#ffe2e0;line-height:17.35px;font-size:12.24px"><span style="position:relative;top:1.2px"><i class="o">1</i>07</span></div>
<div class="cl" style="left:770.70px;top:175.35px;width:40.15px;height:17.35px;background:#f68a3a;color:#2e1a0c;line-height:17.35px;font-size:12.24px"><span style="position:relative;top:1.2px">92</span></div>
<div class="cl" style="left:810.85px;top:175.35px;width:30.50px;height:17.35px;background:#f8d08a;color:#2e1a0c;line-height:17.35px;font-size:12.24px"><span style="position:relative;top:1.2px">83</span></div>
<div class="cl" style="left:841.35px;top:175.35px;width:30.50px;height:17.35px;background:#f8d08a;color:#2e1a0c;line-height:17.35px;font-size:12.24px"><span style="position:relative;top:1.2px">83</span></div>
<div style="position:absolute;left:485px;top:192.70px;width:124.10px;height:17.35px;background:#d3d3d3"></div>
<div class="lb" style="left:485.98px;top:193.20px;height:17.35px;line-height:17.35px;font-size:13.12px">Henderson</div>
<div class="cl" style="left:610.10px;top:192.70px;width:40.15px;height:17.35px;background:#c00c2c;color:#ffe2e0;line-height:17.35px;font-size:12.24px"><span style="position:relative;top:1.2px"><i class="o">1</i>06</span></div>
<div class="cl" style="left:650.25px;top:192.70px;width:40.15px;height:17.35px;background:#8c0b2e;color:#ffe2e0;line-height:17.35px;font-size:12.24px"><span style="position:relative;top:1.2px"><i class="o">1</i><i class="o">1</i>0</span></div>
<div class="cl" style="left:690.40px;top:192.70px;width:40.15px;height:17.35px;background:#8c0b2e;color:#ffe2e0;line-height:17.35px;font-size:12.24px"><span style="position:relative;top:1.2px"><i class="o">1</i><i class="o">1</i>0</span></div>
<div class="cl" style="left:730.55px;top:192.70px;width:40.15px;height:17.35px;background:#c00c2c;color:#ffe2e0;line-height:17.35px;font-size:12.24px"><span style="position:relative;top:1.2px"><i class="o">1</i>09</span></div>
<div class="cl" style="left:770.70px;top:192.70px;width:40.15px;height:17.35px;background:#f68a3a;color:#2e1a0c;line-height:17.35px;font-size:12.24px"><span style="position:relative;top:1.2px">94</span></div>
<div class="cl" style="left:810.85px;top:192.70px;width:30.50px;height:17.35px;background:#f8d08a;color:#2e1a0c;line-height:17.35px;font-size:12.24px"><span style="position:relative;top:1.2px">83</span></div>
<div class="cl" style="left:841.35px;top:192.70px;width:30.50px;height:17.35px;background:#f8d08a;color:#2e1a0c;line-height:17.35px;font-size:12.24px"><span style="position:relative;top:1.2px">83</span></div>
<div class="lb" style="left:485.98px;top:210.55px;height:17.35px;line-height:17.35px;font-size:13.12px">Hopkinsville</div>
<div class="cl" style="left:610.10px;top:210.05px;width:40.15px;height:17.35px;background:#c00c2c;color:#ffe2e0;line-height:17.35px;font-size:12.24px"><span style="position:relative;top:1.2px"><i class="o">1</i>07</span></div>
<div class="cl" style="left:650.25px;top:210.05px;width:40.15px;height:17.35px;background:#8c0b2e;color:#ffe2e0;line-height:17.35px;font-size:12.24px"><span style="position:relative;top:1.2px"><i class="o">1</i><i class="o">1</i>0</span></div>
<div class="cl" style="left:690.40px;top:210.05px;width:40.15px;height:17.35px;background:#8c0b2e;color:#ffe2e0;line-height:17.35px;font-size:12.24px"><span style="position:relative;top:1.2px"><i class="o">1</i><i class="o">1</i><i class="o">1</i></span></div>
<div class="cl" style="left:730.55px;top:210.05px;width:40.15px;height:17.35px;background:#c00c2c;color:#ffe2e0;line-height:17.35px;font-size:12.24px"><span style="position:relative;top:1.2px"><i class="o">1</i>08</span></div>
<div class="cl" style="left:770.70px;top:210.05px;width:40.15px;height:17.35px;background:#df2f2a;color:#ffe2e0;line-height:17.35px;font-size:12.24px"><span style="position:relative;top:1.2px"><i class="o">1</i>03</span></div>
<div class="cl" style="left:810.85px;top:210.05px;width:30.50px;height:17.35px;background:#f7a933;color:#2e1a0c;line-height:17.35px;font-size:12.24px"><span style="position:relative;top:1.2px">88</span></div>
<div class="cl" style="left:841.35px;top:210.05px;width:30.50px;height:17.35px;background:#f7a933;color:#2e1a0c;line-height:17.35px;font-size:12.24px"><span style="position:relative;top:1.2px">88</span></div>
<div style="position:absolute;left:485px;top:227.40px;width:124.10px;height:17.35px;background:#d3d3d3"></div>
<div class="lb" style="left:485.98px;top:227.90px;height:17.35px;line-height:17.35px;font-size:13.12px">Madisonville</div>
<div class="cl" style="left:610.10px;top:227.40px;width:40.15px;height:17.35px;background:#c00c2c;color:#ffe2e0;line-height:17.35px;font-size:12.24px"><span style="position:relative;top:1.2px"><i class="o">1</i>05</span></div>
<div class="cl" style="left:650.25px;top:227.40px;width:40.15px;height:17.35px;background:#c00c2c;color:#ffe2e0;line-height:17.35px;font-size:12.24px"><span style="position:relative;top:1.2px"><i class="o">1</i>08</span></div>
<div class="cl" style="left:690.40px;top:227.40px;width:40.15px;height:17.35px;background:#c00c2c;color:#ffe2e0;line-height:17.35px;font-size:12.24px"><span style="position:relative;top:1.2px"><i class="o">1</i>08</span></div>
<div class="cl" style="left:730.55px;top:227.40px;width:40.15px;height:17.35px;background:#c00c2c;color:#ffe2e0;line-height:17.35px;font-size:12.24px"><span style="position:relative;top:1.2px"><i class="o">1</i>08</span></div>
<div class="cl" style="left:770.70px;top:227.40px;width:40.15px;height:17.35px;background:#f05330;color:#ffe2e0;line-height:17.35px;font-size:12.24px"><span style="position:relative;top:1.2px">97</span></div>
<div class="cl" style="left:810.85px;top:227.40px;width:30.50px;height:17.35px;background:#f8d08a;color:#2e1a0c;line-height:17.35px;font-size:12.24px"><span style="position:relative;top:1.2px">84</span></div>
<div class="cl" style="left:841.35px;top:227.40px;width:30.50px;height:17.35px;background:#f7a933;color:#2e1a0c;line-height:17.35px;font-size:12.24px"><span style="position:relative;top:1.2px">85</span></div>
<div class="lb" style="left:485.98px;top:245.25px;height:17.35px;line-height:17.35px;font-size:13.12px">Marion</div>
<div class="cl" style="left:610.10px;top:244.75px;width:40.15px;height:17.35px;background:#c00c2c;color:#ffe2e0;line-height:17.35px;font-size:12.24px"><span style="position:relative;top:1.2px"><i class="o">1</i>07</span></div>
<div class="cl" style="left:650.25px;top:244.75px;width:40.15px;height:17.35px;background:#8c0b2e;color:#ffe2e0;line-height:17.35px;font-size:12.24px"><span style="position:relative;top:1.2px"><i class="o">1</i><i class="o">1</i>0</span></div>
<div class="cl" style="left:690.40px;top:244.75px;width:40.15px;height:17.35px;background:#8c0b2e;color:#ffe2e0;line-height:17.35px;font-size:12.24px"><span style="position:relative;top:1.2px"><i class="o">1</i><i class="o">1</i>2</span></div>
<div class="cl" style="left:730.55px;top:244.75px;width:40.15px;height:17.35px;background:#8c0b2e;color:#ffe2e0;line-height:17.35px;font-size:12.24px"><span style="position:relative;top:1.2px"><i class="o">1</i><i class="o">1</i>2</span></div>
<div class="cl" style="left:770.70px;top:244.75px;width:40.15px;height:17.35px;background:#f05330;color:#ffe2e0;line-height:17.35px;font-size:12.24px"><span style="position:relative;top:1.2px">95</span></div>
<div class="cl" style="left:810.85px;top:244.75px;width:30.50px;height:17.35px;background:#f8d08a;color:#2e1a0c;line-height:17.35px;font-size:12.24px"><span style="position:relative;top:1.2px">84</span></div>
<div class="cl" style="left:841.35px;top:244.75px;width:30.50px;height:17.35px;background:#f8d08a;color:#2e1a0c;line-height:17.35px;font-size:12.24px"><span style="position:relative;top:1.2px">83</span></div>
<div style="position:absolute;left:485px;top:262.10px;width:124.10px;height:17.35px;background:#d3d3d3"></div>
<div class="lb" style="left:485.98px;top:262.60px;height:17.35px;line-height:17.35px;font-size:13.12px">Mount Carmel</div>
<div class="cl" style="left:610.10px;top:262.10px;width:40.15px;height:17.35px;background:#c00c2c;color:#ffe2e0;line-height:17.35px;font-size:12.24px"><span style="position:relative;top:1.2px"><i class="o">1</i>06</span></div>
<div class="cl" style="left:650.25px;top:262.10px;width:40.15px;height:17.35px;background:#c00c2c;color:#ffe2e0;line-height:17.35px;font-size:12.24px"><span style="position:relative;top:1.2px"><i class="o">1</i>09</span></div>
<div class="cl" style="left:690.40px;top:262.10px;width:40.15px;height:17.35px;background:#c00c2c;color:#ffe2e0;line-height:17.35px;font-size:12.24px"><span style="position:relative;top:1.2px"><i class="o">1</i>09</span></div>
<div class="cl" style="left:730.55px;top:262.10px;width:40.15px;height:17.35px;background:#c00c2c;color:#ffe2e0;line-height:17.35px;font-size:12.24px"><span style="position:relative;top:1.2px"><i class="o">1</i>08</span></div>
<div class="cl" style="left:770.70px;top:262.10px;width:40.15px;height:17.35px;background:#f68a3a;color:#2e1a0c;line-height:17.35px;font-size:12.24px"><span style="position:relative;top:1.2px">90</span></div>
<div class="cl" style="left:810.85px;top:262.10px;width:30.50px;height:17.35px;background:#f8d08a;color:#2e1a0c;line-height:17.35px;font-size:12.24px"><span style="position:relative;top:1.2px">82</span></div>
<div class="cl" style="left:841.35px;top:262.10px;width:30.50px;height:17.35px;background:#f8d08a;color:#2e1a0c;line-height:17.35px;font-size:12.24px"><span style="position:relative;top:1.2px">82</span></div>
<div class="lb" style="left:485.98px;top:279.95px;height:17.35px;line-height:17.35px;font-size:13.12px">Mount Vernon</div>
<div class="cl" style="left:610.10px;top:279.45px;width:40.15px;height:17.35px;background:#df2f2a;color:#ffe2e0;line-height:17.35px;font-size:12.24px"><span style="position:relative;top:1.2px"><i class="o">1</i>04</span></div>
<div class="cl" style="left:650.25px;top:279.45px;width:40.15px;height:17.35px;background:#8c0b2e;color:#ffe2e0;line-height:17.35px;font-size:12.24px"><span style="position:relative;top:1.2px"><i class="o">1</i><i class="o">1</i>0</span></div>
<div class="cl" style="left:690.40px;top:279.45px;width:40.15px;height:17.35px;background:#8c0b2e;color:#ffe2e0;line-height:17.35px;font-size:12.24px"><span style="position:relative;top:1.2px"><i class="o">1</i><i class="o">1</i>0</span></div>
<div class="cl" style="left:730.55px;top:279.45px;width:40.15px;height:17.35px;background:#c00c2c;color:#ffe2e0;line-height:17.35px;font-size:12.24px"><span style="position:relative;top:1.2px"><i class="o">1</i>05</span></div>
<div class="cl" style="left:770.70px;top:279.45px;width:40.15px;height:17.35px;background:#f68a3a;color:#2e1a0c;line-height:17.35px;font-size:12.24px"><span style="position:relative;top:1.2px">90</span></div>
<div class="cl" style="left:810.85px;top:279.45px;width:30.50px;height:17.35px;background:#f8d08a;color:#2e1a0c;line-height:17.35px;font-size:12.24px"><span style="position:relative;top:1.2px">82</span></div>
<div class="cl" style="left:841.35px;top:279.45px;width:30.50px;height:17.35px;background:#f8d08a;color:#2e1a0c;line-height:17.35px;font-size:12.24px"><span style="position:relative;top:1.2px">82</span></div>
<div style="position:absolute;left:485px;top:296.80px;width:124.10px;height:17.35px;background:#d3d3d3"></div>
<div class="lb" style="left:485.98px;top:297.30px;height:17.35px;line-height:17.35px;font-size:13.12px">Murray</div>
<div class="cl" style="left:610.10px;top:296.80px;width:40.15px;height:17.35px;background:#c00c2c;color:#ffe2e0;line-height:17.35px;font-size:12.24px"><span style="position:relative;top:1.2px"><i class="o">1</i>07</span></div>
<div class="cl" style="left:650.25px;top:296.80px;width:40.15px;height:17.35px;background:#8c0b2e;color:#ffe2e0;line-height:17.35px;font-size:12.24px"><span style="position:relative;top:1.2px"><i class="o">1</i><i class="o">1</i>0</span></div>
<div class="cl" style="left:690.40px;top:296.80px;width:40.15px;height:17.35px;background:#8c0b2e;color:#ffe2e0;line-height:17.35px;font-size:12.24px"><span style="position:relative;top:1.2px"><i class="o">1</i><i class="o">1</i><i class="o">1</i></span></div>
<div class="cl" style="left:730.55px;top:296.80px;width:40.15px;height:17.35px;background:#8c0b2e;color:#ffe2e0;line-height:17.35px;font-size:12.24px"><span style="position:relative;top:1.2px"><i class="o">1</i><i class="o">1</i><i class="o">1</i></span></div>
<div class="cl" style="left:770.70px;top:296.80px;width:40.15px;height:17.35px;background:#df2f2a;color:#ffe2e0;line-height:17.35px;font-size:12.24px"><span style="position:relative;top:1.2px"><i class="o">1</i>02</span></div>
<div class="cl" style="left:810.85px;top:296.80px;width:30.50px;height:17.35px;background:#f7a933;color:#2e1a0c;line-height:17.35px;font-size:12.24px"><span style="position:relative;top:1.2px">88</span></div>
<div class="cl" style="left:841.35px;top:296.80px;width:30.50px;height:17.35px;background:#f7a933;color:#2e1a0c;line-height:17.35px;font-size:12.24px"><span style="position:relative;top:1.2px">89</span></div>
<div class="lb" style="left:485.98px;top:314.65px;height:17.35px;line-height:17.35px;font-size:13.12px">New Madrid</div>
<div class="cl" style="left:610.10px;top:314.15px;width:40.15px;height:17.35px;background:#c00c2c;color:#ffe2e0;line-height:17.35px;font-size:12.24px"><span style="position:relative;top:1.2px"><i class="o">1</i>07</span></div>
<div class="cl" style="left:650.25px;top:314.15px;width:40.15px;height:17.35px;background:#c00c2c;color:#ffe2e0;line-height:17.35px;font-size:12.24px"><span style="position:relative;top:1.2px"><i class="o">1</i>09</span></div>
<div class="cl" style="left:690.40px;top:314.15px;width:40.15px;height:17.35px;background:#8c0b2e;color:#ffe2e0;line-height:17.35px;font-size:12.24px"><span style="position:relative;top:1.2px"><i class="o">1</i><i class="o">1</i><i class="o">1</i></span></div>
<div class="cl" style="left:730.55px;top:314.15px;width:40.15px;height:17.35px;background:#c00c2c;color:#ffe2e0;line-height:17.35px;font-size:12.24px"><span style="position:relative;top:1.2px"><i class="o">1</i>09</span></div>
<div class="cl" style="left:770.70px;top:314.15px;width:40.15px;height:17.35px;background:#f05330;color:#ffe2e0;line-height:17.35px;font-size:12.24px"><span style="position:relative;top:1.2px">99</span></div>
<div class="cl" style="left:810.85px;top:314.15px;width:30.50px;height:17.35px;background:#f7a933;color:#2e1a0c;line-height:17.35px;font-size:12.24px"><span style="position:relative;top:1.2px">87</span></div>
<div class="cl" style="left:841.35px;top:314.15px;width:30.50px;height:17.35px;background:#f7a933;color:#2e1a0c;line-height:17.35px;font-size:12.24px"><span style="position:relative;top:1.2px">86</span></div>
<div style="position:absolute;left:485px;top:331.50px;width:124.10px;height:17.35px;background:#d3d3d3"></div>
<div class="lb" style="left:485.98px;top:332.00px;height:17.35px;line-height:17.35px;font-size:13.12px">Owensboro</div>
<div class="cl" style="left:610.10px;top:331.50px;width:40.15px;height:17.35px;background:#c00c2c;color:#ffe2e0;line-height:17.35px;font-size:12.24px"><span style="position:relative;top:1.2px"><i class="o">1</i>08</span></div>
<div class="cl" style="left:650.25px;top:331.50px;width:40.15px;height:17.35px;background:#8c0b2e;color:#ffe2e0;line-height:17.35px;font-size:12.24px"><span style="position:relative;top:1.2px"><i class="o">1</i><i class="o">1</i>0</span></div>
<div class="cl" style="left:690.40px;top:331.50px;width:40.15px;height:17.35px;background:#8c0b2e;color:#ffe2e0;line-height:17.35px;font-size:12.24px"><span style="position:relative;top:1.2px"><i class="o">1</i><i class="o">1</i><i class="o">1</i></span></div>
<div class="cl" style="left:730.55px;top:331.50px;width:40.15px;height:17.35px;background:#c00c2c;color:#ffe2e0;line-height:17.35px;font-size:12.24px"><span style="position:relative;top:1.2px"><i class="o">1</i>09</span></div>
<div class="cl" style="left:770.70px;top:331.50px;width:40.15px;height:17.35px;background:#f05330;color:#ffe2e0;line-height:17.35px;font-size:12.24px"><span style="position:relative;top:1.2px">96</span></div>
<div class="cl" style="left:810.85px;top:331.50px;width:30.50px;height:17.35px;background:#f8d08a;color:#2e1a0c;line-height:17.35px;font-size:12.24px"><span style="position:relative;top:1.2px">84</span></div>
<div class="cl" style="left:841.35px;top:331.50px;width:30.50px;height:17.35px;background:#f7a933;color:#2e1a0c;line-height:17.35px;font-size:12.24px"><span style="position:relative;top:1.2px">85</span></div>
<div class="lb" style="left:485.98px;top:349.35px;height:17.35px;line-height:17.35px;font-size:13.12px">Paducah</div>
<div class="cl" style="left:610.10px;top:348.85px;width:40.15px;height:17.35px;background:#c00c2c;color:#ffe2e0;line-height:17.35px;font-size:12.24px"><span style="position:relative;top:1.2px"><i class="o">1</i>08</span></div>
<div class="cl" style="left:650.25px;top:348.85px;width:40.15px;height:17.35px;background:#8c0b2e;color:#ffe2e0;line-height:17.35px;font-size:12.24px"><span style="position:relative;top:1.2px"><i class="o">1</i><i class="o">1</i>2</span></div>
<div class="cl" style="left:690.40px;top:348.85px;width:40.15px;height:17.35px;background:#8c0b2e;color:#ffe2e0;line-height:17.35px;font-size:12.24px"><span style="position:relative;top:1.2px"><i class="o">1</i><i class="o">1</i>3</span></div>
<div class="cl" style="left:730.55px;top:348.85px;width:40.15px;height:17.35px;background:#8c0b2e;color:#ffe2e0;line-height:17.35px;font-size:12.24px"><span style="position:relative;top:1.2px"><i class="o">1</i><i class="o">1</i>3</span></div>
<div class="cl" style="left:770.70px;top:348.85px;width:40.15px;height:17.35px;background:#df2f2a;color:#ffe2e0;line-height:17.35px;font-size:12.24px"><span style="position:relative;top:1.2px"><i class="o">1</i>0<i class="o">1</i></span></div>
<div class="cl" style="left:810.85px;top:348.85px;width:30.50px;height:17.35px;background:#f7a933;color:#2e1a0c;line-height:17.35px;font-size:12.24px"><span style="position:relative;top:1.2px">88</span></div>
<div class="cl" style="left:841.35px;top:348.85px;width:30.50px;height:17.35px;background:#f7a933;color:#2e1a0c;line-height:17.35px;font-size:12.24px"><span style="position:relative;top:1.2px">88</span></div>
<div style="position:absolute;left:485px;top:366.20px;width:124.10px;height:17.35px;background:#d3d3d3"></div>
<div class="lb" style="left:485.98px;top:366.70px;height:17.35px;line-height:17.35px;font-size:13.12px">Petersburg</div>
<div class="cl" style="left:610.10px;top:366.20px;width:40.15px;height:17.35px;background:#c00c2c;color:#ffe2e0;line-height:17.35px;font-size:12.24px"><span style="position:relative;top:1.2px"><i class="o">1</i>06</span></div>
<div class="cl" style="left:650.25px;top:366.20px;width:40.15px;height:17.35px;background:#c00c2c;color:#ffe2e0;line-height:17.35px;font-size:12.24px"><span style="position:relative;top:1.2px"><i class="o">1</i>07</span></div>
<div class="cl" style="left:690.40px;top:366.20px;width:40.15px;height:17.35px;background:#c00c2c;color:#ffe2e0;line-height:17.35px;font-size:12.24px"><span style="position:relative;top:1.2px"><i class="o">1</i>08</span></div>
<div class="cl" style="left:730.55px;top:366.20px;width:40.15px;height:17.35px;background:#c00c2c;color:#ffe2e0;line-height:17.35px;font-size:12.24px"><span style="position:relative;top:1.2px"><i class="o">1</i>05</span></div>
<div class="cl" style="left:770.70px;top:366.20px;width:40.15px;height:17.35px;background:#f68a3a;color:#2e1a0c;line-height:17.35px;font-size:12.24px"><span style="position:relative;top:1.2px">90</span></div>
<div class="cl" style="left:810.85px;top:366.20px;width:30.50px;height:17.35px;background:#f8d08a;color:#2e1a0c;line-height:17.35px;font-size:12.24px"><span style="position:relative;top:1.2px">82</span></div>
<div class="cl" style="left:841.35px;top:366.20px;width:30.50px;height:17.35px;background:#f8d08a;color:#2e1a0c;line-height:17.35px;font-size:12.24px"><span style="position:relative;top:1.2px">82</span></div>
<div class="lb" style="left:485.98px;top:384.05px;height:17.35px;line-height:17.35px;font-size:13.12px">Poplar Bluff</div>
<div class="cl" style="left:610.10px;top:383.55px;width:40.15px;height:17.35px;background:#c00c2c;color:#ffe2e0;line-height:17.35px;font-size:12.24px"><span style="position:relative;top:1.2px"><i class="o">1</i>07</span></div>
<div class="cl" style="left:650.25px;top:383.55px;width:40.15px;height:17.35px;background:#8c0b2e;color:#ffe2e0;line-height:17.35px;font-size:12.24px"><span style="position:relative;top:1.2px"><i class="o">1</i><i class="o">1</i><i class="o">1</i></span></div>
<div class="cl" style="left:690.40px;top:383.55px;width:40.15px;height:17.35px;background:#8c0b2e;color:#ffe2e0;line-height:17.35px;font-size:12.24px"><span style="position:relative;top:1.2px"><i class="o">1</i><i class="o">1</i><i class="o">1</i></span></div>
<div class="cl" style="left:730.55px;top:383.55px;width:40.15px;height:17.35px;background:#c00c2c;color:#ffe2e0;line-height:17.35px;font-size:12.24px"><span style="position:relative;top:1.2px"><i class="o">1</i>09</span></div>
<div class="cl" style="left:770.70px;top:383.55px;width:40.15px;height:17.35px;background:#f05330;color:#ffe2e0;line-height:17.35px;font-size:12.24px"><span style="position:relative;top:1.2px">99</span></div>
<div class="cl" style="left:810.85px;top:383.55px;width:30.50px;height:17.35px;background:#f7a933;color:#2e1a0c;line-height:17.35px;font-size:12.24px"><span style="position:relative;top:1.2px">87</span></div>
<div class="cl" style="left:841.35px;top:383.55px;width:30.50px;height:17.35px;background:#f7a933;color:#2e1a0c;line-height:17.35px;font-size:12.24px"><span style="position:relative;top:1.2px">86</span></div>
<div style="position:absolute;left:485px;top:400.90px;width:124.10px;height:17.35px;background:#d3d3d3"></div>
<div class="lb" style="left:485.98px;top:401.40px;height:17.35px;line-height:17.35px;font-size:13.12px">Van Buren</div>
<div class="cl" style="left:610.10px;top:400.90px;width:40.15px;height:17.35px;background:#c00c2c;color:#ffe2e0;line-height:17.35px;font-size:12.24px"><span style="position:relative;top:1.2px"><i class="o">1</i>08</span></div>
<div class="cl" style="left:650.25px;top:400.90px;width:40.15px;height:17.35px;background:#c00c2c;color:#ffe2e0;line-height:17.35px;font-size:12.24px"><span style="position:relative;top:1.2px"><i class="o">1</i>09</span></div>
<div class="cl" style="left:690.40px;top:400.90px;width:40.15px;height:17.35px;background:#8c0b2e;color:#ffe2e0;line-height:17.35px;font-size:12.24px"><span style="position:relative;top:1.2px"><i class="o">1</i><i class="o">1</i><i class="o">1</i></span></div>
<div class="cl" style="left:730.55px;top:400.90px;width:40.15px;height:17.35px;background:#8c0b2e;color:#ffe2e0;line-height:17.35px;font-size:12.24px"><span style="position:relative;top:1.2px"><i class="o">1</i><i class="o">1</i>0</span></div>
<div class="cl" style="left:770.70px;top:400.90px;width:40.15px;height:17.35px;background:#f05330;color:#ffe2e0;line-height:17.35px;font-size:12.24px"><span style="position:relative;top:1.2px">98</span></div>
<div class="cl" style="left:810.85px;top:400.90px;width:30.50px;height:17.35px;background:#f7a933;color:#2e1a0c;line-height:17.35px;font-size:12.24px"><span style="position:relative;top:1.2px">86</span></div>
<div class="cl" style="left:841.35px;top:400.90px;width:30.50px;height:17.35px;background:#f7a933;color:#2e1a0c;line-height:17.35px;font-size:12.24px"><span style="position:relative;top:1.2px">86</span></div>
<div style="position:absolute;left:609.30px;top:91px;width:1.6px;height:32.30px;background:#b4b4b4"></div>
<div style="position:absolute;left:649.45px;top:91px;width:1.6px;height:32.30px;background:#b4b4b4"></div>
<div style="position:absolute;left:648.75px;top:123.3px;width:3px;height:294.95px;background:rgba(255,255,255,.45)"></div>
<div style="position:absolute;left:649.65px;top:123.3px;width:1.2px;height:294.95px;background:rgba(140,140,140,.55)"></div>
<div style="position:absolute;left:689.60px;top:91px;width:1.6px;height:32.30px;background:#b4b4b4"></div>
<div style="position:absolute;left:688.90px;top:123.3px;width:3px;height:294.95px;background:rgba(255,255,255,.45)"></div>
<div style="position:absolute;left:689.80px;top:123.3px;width:1.2px;height:294.95px;background:rgba(140,140,140,.55)"></div>
<div style="position:absolute;left:729.75px;top:91px;width:1.6px;height:32.30px;background:#b4b4b4"></div>
<div style="position:absolute;left:729.05px;top:123.3px;width:3px;height:294.95px;background:rgba(255,255,255,.45)"></div>
<div style="position:absolute;left:729.95px;top:123.3px;width:1.2px;height:294.95px;background:rgba(140,140,140,.55)"></div>
<div style="position:absolute;left:769.90px;top:91px;width:1.6px;height:32.30px;background:#b4b4b4"></div>
<div style="position:absolute;left:769.20px;top:123.3px;width:3px;height:294.95px;background:rgba(255,255,255,.45)"></div>
<div style="position:absolute;left:770.10px;top:123.3px;width:1.2px;height:294.95px;background:rgba(140,140,140,.55)"></div>
<div style="position:absolute;left:810.05px;top:91px;width:1.6px;height:32.30px;background:#b4b4b4"></div>
<div style="position:absolute;left:809.35px;top:123.3px;width:3px;height:294.95px;background:rgba(255,255,255,.45)"></div>
<div style="position:absolute;left:810.25px;top:123.3px;width:1.2px;height:294.95px;background:rgba(140,140,140,.55)"></div>
<div style="position:absolute;left:840.55px;top:91px;width:1.6px;height:32.30px;background:#b4b4b4"></div>
<div style="position:absolute;left:839.85px;top:123.3px;width:3px;height:294.95px;background:rgba(255,255,255,.45)"></div>
<div style="position:absolute;left:840.75px;top:123.3px;width:1.2px;height:294.95px;background:rgba(140,140,140,.55)"></div>
<div style="position:absolute;left:610.10px;top:140.05px;width:261.75px;height:1.3px;background:rgba(255,255,255,.5)"></div>
<div style="position:absolute;left:610.10px;top:157.40px;width:261.75px;height:1.3px;background:rgba(255,255,255,.5)"></div>
<div style="position:absolute;left:610.10px;top:174.75px;width:261.75px;height:1.3px;background:rgba(255,255,255,.5)"></div>
<div style="position:absolute;left:610.10px;top:192.10px;width:261.75px;height:1.3px;background:rgba(255,255,255,.5)"></div>
<div style="position:absolute;left:610.10px;top:209.45px;width:261.75px;height:1.3px;background:rgba(255,255,255,.5)"></div>
<div style="position:absolute;left:610.10px;top:226.80px;width:261.75px;height:1.3px;background:rgba(255,255,255,.5)"></div>
<div style="position:absolute;left:610.10px;top:244.15px;width:261.75px;height:1.3px;background:rgba(255,255,255,.5)"></div>
<div style="position:absolute;left:610.10px;top:261.50px;width:261.75px;height:1.3px;background:rgba(255,255,255,.5)"></div>
<div style="position:absolute;left:610.10px;top:278.85px;width:261.75px;height:1.3px;background:rgba(255,255,255,.5)"></div>
<div style="position:absolute;left:610.10px;top:296.20px;width:261.75px;height:1.3px;background:rgba(255,255,255,.5)"></div>
<div style="position:absolute;left:610.10px;top:313.55px;width:261.75px;height:1.3px;background:rgba(255,255,255,.5)"></div>
<div style="position:absolute;left:610.10px;top:330.90px;width:261.75px;height:1.3px;background:rgba(255,255,255,.5)"></div>
<div style="position:absolute;left:610.10px;top:348.25px;width:261.75px;height:1.3px;background:rgba(255,255,255,.5)"></div>
<div style="position:absolute;left:610.10px;top:365.60px;width:261.75px;height:1.3px;background:rgba(255,255,255,.5)"></div>
<div style="position:absolute;left:610.10px;top:382.95px;width:261.75px;height:1.3px;background:rgba(255,255,255,.5)"></div>
<div style="position:absolute;left:610.10px;top:400.30px;width:261.75px;height:1.3px;background:rgba(255,255,255,.5)"></div>
<div class="hd" style="left:610.10px;top:92.2px;width:40.15px;font-size:12.73px"><span style="transform:scaleX(0.83)">7/27</span></div>
<div class="hd b" style="left:610.10px;top:109px;width:40.15px;font-size:13.22px"><span style="transform:scaleX(0.8)">Sun</span></div>
<div class="hd" style="left:650.25px;top:92.2px;width:40.15px;font-size:12.73px"><span style="transform:scaleX(0.83)">7/28</span></div>
<div class="hd b" style="left:650.25px;top:109px;width:40.15px;font-size:13.22px"><span style="transform:scaleX(0.8)">Mon</span></div>
<div class="hd" style="left:690.40px;top:92.2px;width:40.15px;font-size:12.73px"><span style="transform:scaleX(0.83)">7/29</span></div>
<div class="hd b" style="left:690.40px;top:109px;width:40.15px;font-size:13.22px"><span style="transform:scaleX(0.8)">Tue</span></div>
<div class="hd" style="left:730.55px;top:92.2px;width:40.15px;font-size:12.73px"><span style="transform:scaleX(0.83)">7/30</span></div>
<div class="hd b" style="left:730.55px;top:109px;width:40.15px;font-size:13.22px"><span style="transform:scaleX(0.8)">Wed</span></div>
<div class="hd" style="left:770.70px;top:92.2px;width:40.15px;font-size:12.73px"><span style="transform:scaleX(0.83)">7/31</span></div>
<div class="hd b" style="left:770.70px;top:109px;width:40.15px;font-size:13.22px"><span style="transform:scaleX(0.8)">Thu</span></div>
<div class="hd" style="left:810.85px;top:92.2px;width:30.50px;font-size:12.73px"><span style="transform:scaleX(0.83)">8/1</span></div>
<div class="hd b" style="left:810.85px;top:109px;width:30.50px;font-size:13.22px"><span style="transform:scaleX(0.8)">Fri</span></div>
<div class="hd" style="left:841.35px;top:92.2px;width:30.50px;font-size:12.73px"><span style="transform:scaleX(0.83)">8/2</span></div>
<div class="hd b" style="left:841.35px;top:109px;width:30.50px;font-size:13.22px"><span style="transform:scaleX(0.8)">Sat</span></div>
<div style="position:absolute;left:560.2px;top:421.5px;width:238.70px;height:9.3px;display:flex;outline:0.5px solid #9a9a80"><div style="flex:1;background:#d6f2bc"></div><div style="flex:1;background:#fdf9b4"></div><div style="flex:1;background:#fbe9a2"></div><div style="flex:1;background:#f8d08a"></div><div style="flex:1;background:#f7a933"></div><div style="flex:1;background:#f68a3a"></div><div style="flex:1;background:#f05330"></div><div style="flex:1;background:#df2f2a"></div><div style="flex:1;background:#c00c2c"></div><div style="flex:1;background:#8c0b2e"></div><div style="flex:1;background:#5b0c4a"></div></div>
<div style="position:absolute;left:581.40px;top:421.5px;width:1px;height:11.8px;background:#222"></div>
<div class="tk" style="left:566.90px;top:435.8px;font-size:6.85px">70</div>
<div style="position:absolute;left:603.10px;top:421.5px;width:1px;height:11.8px;background:#222"></div>
<div class="tk" style="left:588.60px;top:435.8px;font-size:6.85px">75</div>
<div style="position:absolute;left:624.80px;top:421.5px;width:1px;height:11.8px;background:#222"></div>
<div class="tk" style="left:610.30px;top:435.8px;font-size:6.85px">80</div>
<div style="position:absolute;left:646.50px;top:421.5px;width:1px;height:11.8px;background:#222"></div>
<div class="tk" style="left:632.00px;top:435.8px;font-size:6.85px">85</div>
<div style="position:absolute;left:668.20px;top:421.5px;width:1px;height:11.8px;background:#222"></div>
<div class="tk" style="left:653.70px;top:435.8px;font-size:6.85px">90</div>
<div style="position:absolute;left:689.90px;top:421.5px;width:1px;height:11.8px;background:#222"></div>
<div class="tk" style="left:675.40px;top:435.8px;font-size:6.85px">95</div>
<div style="position:absolute;left:711.60px;top:421.5px;width:1px;height:11.8px;background:#222"></div>
<div class="tk" style="left:697.10px;top:435.8px;font-size:6.85px">100</div>
<div style="position:absolute;left:733.30px;top:421.5px;width:1px;height:11.8px;background:#222"></div>
<div class="tk" style="left:718.80px;top:435.8px;font-size:6.85px">105</div>
<div style="position:absolute;left:755.00px;top:421.5px;width:1px;height:11.8px;background:#222"></div>
<div class="tk" style="left:740.50px;top:435.8px;font-size:6.85px">110</div>
<div style="position:absolute;left:776.70px;top:421.5px;width:1px;height:11.8px;background:#222"></div>
<div class="tk" style="left:762.20px;top:435.8px;font-size:6.85px">115</div>
<div class="tk" style="left:783.90px;top:435.8px;font-size:6.85px">120</div>
<div class="lt" style="left:612px;top:443px;font-size:8.81px">Maximum Heat Index Forecast (°F)</div>
<div class="cr" style="left:485.7px;top:453.3px;font-size:9.79px;transform:scaleX(0.854)">Created: 2 pm CDT Sat 7/26/2025&nbsp; |&nbsp; Values are maximums over the period beginning at the time shown.</div>
<svg style="position:absolute;left:0;top:474px" width="40" height="42" viewBox="0 0 40 42">
<defs><clipPath id="nc"><circle cx="18.1" cy="22.2" r="18.3"/></clipPath></defs>
<g clip-path="url(#nc)">
<rect x="-1" y="0" width="42" height="42" fill="#1f8dd6"/>
<path d="M -1 10 C 7 12, 12 26, 18.7 26 C 25 26, 28 14, 38 7 L 38 -1 L -1 -1 Z" fill="#1b3b8c"/>
<path d="M -1 10 C 7 12, 12 26, 18.7 26 C 25 26, 28 14, 38 7 L 38 10.5 C 30 15, 26 28.5, 19 28.5 C 11 28.5, 6 18, -1 18.5 Z" fill="#ffffff"/>
<path d="M 11.5 30.5 C 17 29, 22 27.5, 27 26.5 L 26 28 C 21 29.5, 16 31, 12.5 31.8 Z" fill="#ffffff"/>
</g>
<text x="17.3" y="15.8" font-size="5.2" font-weight="bold" fill="#d8dcf0" text-anchor="middle" font-family="Liberation Sans" letter-spacing="0.2">NOAA</text>
</svg>

<div style="position:absolute;left:46px;top:481px;font-size:9.5px;font-weight:bold;color:#2a4885;line-height:1;white-space:nowrap">National Oceanic and</div>
<div style="position:absolute;left:46px;top:491.5px;font-size:9.5px;font-weight:bold;color:#2a4885;line-height:1;white-space:nowrap">Atmospheric Administration</div>
<div style="position:absolute;left:46px;top:505.7px;font-size:5.5px;color:#555;line-height:1;white-space:nowrap">U.S. Department of Commerce</div>
<div style="position:absolute;right:12px;top:479px;font-size:16.1px;font-weight:bold;color:#1b3363;-webkit-text-stroke:0.25px #1b3363;line-height:1;white-space:nowrap;text-align:right">National Weather Service</div>
<div style="position:absolute;right:12px;top:498.3px;font-size:16.1px;font-weight:bold;color:#1b3363;-webkit-text-stroke:0.25px #1b3363;line-height:1;white-space:nowrap;text-align:right">Paducah, KY</div>
</body></html>
